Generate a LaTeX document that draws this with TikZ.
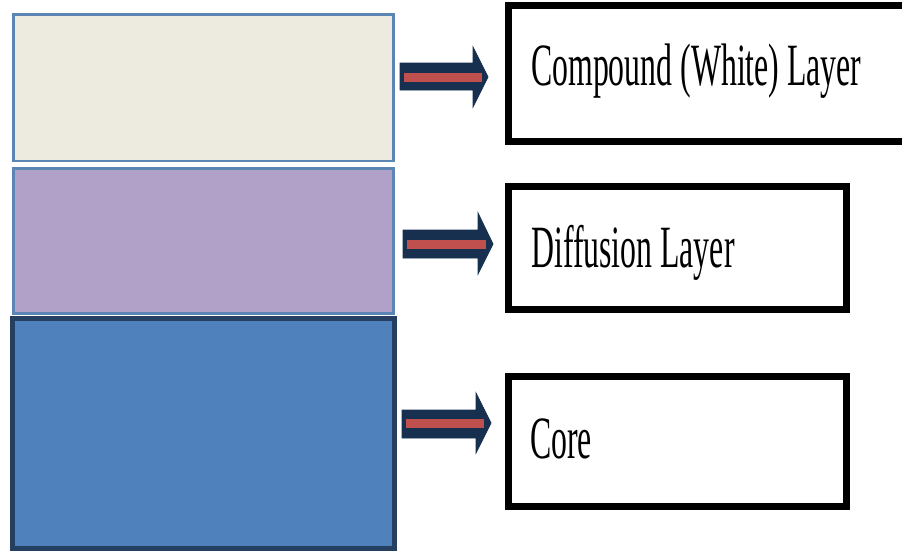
\documentclass[tikz,border=0pt]{standalone}
\usepackage{fontspec}
\newfontfamily\lblfont[FakeStretch=0.53]{Liberation Serif}
\definecolor{beigefill}{HTML}{EDEBE0}
\definecolor{lightedge}{HTML}{5B86B4}
\definecolor{purplefill}{HTML}{B1A0C7}
\definecolor{bluefill}{HTML}{4F81BD}
\definecolor{blueedge}{HTML}{243F60}
\definecolor{arrownavy}{HTML}{17304F}
\definecolor{arrowred}{HTML}{C0504D}
\begin{document}
\begin{tikzpicture}[x=1pt,y=-1pt,
  labelbox/.style={draw=black,line width=7pt,fill=white},
  lbl/.style={anchor=base west,inner sep=0pt,text=black,font=\lblfont\fontsize{60}{60}\selectfont},
  blockarrow/.style={fill=arrownavy,draw=arrownavy,line width=0.8pt,line join=miter},
  stripe/.style={fill=arrowred}]
\clip (0,0) rectangle (902,552);
\fill[white] (0,0) rectangle (902,552);
% layers
\draw[fill=beigefill,draw=lightedge,line width=2.5pt] (13.5,14.5) rectangle (393.5,161) coordinate (L1);
\draw[fill=purplefill,draw=lightedge,line width=2.5pt] (13.5,168.5) rectangle (393.5,313.5) coordinate (L2);
\draw[fill=bluefill,draw=blueedge,line width=5pt] (12.5,318.5) rectangle (394,548.5) coordinate (L3);
% label boxes
\draw[labelbox] (508.5,5.5) rectangle (915,141.5);
\draw[labelbox] (508.5,186.5) rectangle (846.5,309.5);
\draw[labelbox] (508.5,376.5) rectangle (846.5,506.5);
\node[lbl] (t1) at (531,85) {Compound (White) Layer};
\node[lbl] (t2) at (531,267) {Diffusion Layer};
\node[lbl] (t3) at (530,458) {Core};
% block arrows
\draw[blockarrow] (400,63) -- (473,63) -- (473,47) -- (488,77) -- (473,107) -- (473,90) -- (400,90) -- cycle;
\fill[stripe] (404,72.5) rectangle (482,81.5);
\draw[blockarrow] (403,230) -- (478,230) -- (478,213) -- (493,244) -- (478,274) -- (478,258) -- (403,258) -- cycle;
\fill[stripe] (407,239.5) rectangle (486,248.5);
\draw[blockarrow] (402,410) -- (476,410) -- (476,393) -- (491,423) -- (476,453) -- (476,438) -- (402,438) -- cycle;
\fill[stripe] (406,419) rectangle (484,428);
\end{tikzpicture}
\end{document}
